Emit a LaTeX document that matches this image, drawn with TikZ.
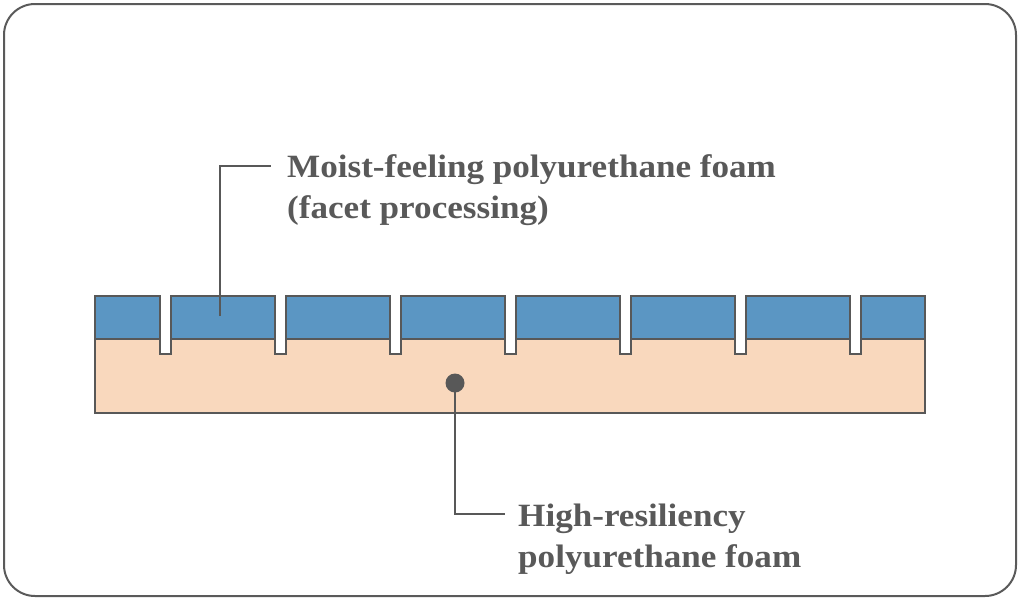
\documentclass[tikz,border=0pt]{standalone}
\usepackage{fontspec}
\setmainfont{Liberation Serif}[FakeStretch=1.08]
\definecolor{frame}{HTML}{5A5A5A}
\definecolor{edge}{HTML}{585858}
\definecolor{topfoam}{HTML}{5B96C3}
\definecolor{basefoam}{HTML}{F9D8BD}
\definecolor{txt}{HTML}{595959}
\begin{document}
\begin{tikzpicture}[x=1pt,y=-1pt,
  outline/.style={draw=edge,line width=2pt,line join=miter},
  leader/.style={draw=edge,line width=2pt},
  lbl/.style={text=txt,font=\bfseries\fontsize{32.5}{41}\selectfont,align=left,inner sep=0pt,anchor=base west}]
\useasboundingbox (0,0) rectangle (1020,600);
\draw[frame,line width=2pt,rounded corners=31pt] (4,4) rectangle (1016,596);
% base foam with notches
\path[outline,fill=basefoam] (95,339)
  \foreach \k in {0,...,6} { -- ({160+115*\k},339) -- ({160+115*\k},354) -- ({171+115*\k},354) -- ({171+115*\k},339) }
  -- (925,339) -- (925,413) -- (95,413) -- cycle;
% top foam blocks
\path[outline,fill=topfoam] (95,296) rectangle (160,339);
\foreach \k in {0,...,5} {
  \path[outline,fill=topfoam] ({171+115*\k},296) rectangle ({275+115*\k},339);
}
\path[outline,fill=topfoam] (861,296) rectangle (925,339);
% labels (anchored at the baseline of the last line)
\node[lbl] (top) at (287,218) {Moist-feeling polyurethane foam\\(facet processing)};
\node[lbl] (bot) at (518,567) {High-resiliency\\polyurethane foam};
\coordinate (p1) at (220,316);
\coordinate (c1) at (220,166);
\coordinate (e1) at (271,166);
\draw[leader] (p1) -- (c1) -- (e1);
\fill[edge] (455,383) circle (9.5) coordinate (dot);
\coordinate (c2) at (455,514);
\coordinate (e2) at (505,514);
\draw[leader] (dot) -- (c2) -- (e2);
\end{tikzpicture}
\end{document}
